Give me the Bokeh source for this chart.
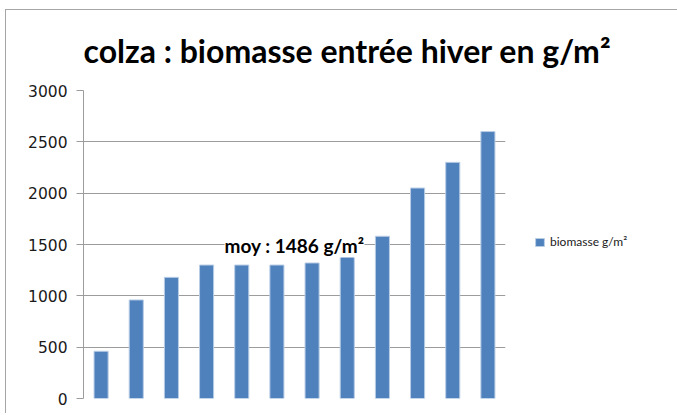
from bokeh.plotting import figure
from bokeh.models import Range1d, Label, Legend, LegendItem, FixedTicker, Title
from bokeh.embed import file_html
from bokeh.resources import INLINE

# ---- data ----
positions = list(range(1, 13))
biomasse = [460, 960, 1180, 1300, 1300, 1300, 1320, 1470, 1580, 2050, 2300, 2600]
moyenne = 1486
y_ticks = [0, 500, 1000, 1500, 2000, 2500, 3000]
title_text = "colza : biomasse entrée hiver en g/m²"
moy_text = "moy : 1486 g/m²"
legend_label = "biomasse g/m²"

BLUE = "#4f81bd"
GRID = "#9c9c9c"

p = figure(frame_width=422, frame_height=308, output_backend="svg", toolbar_location=None,
           x_range=Range1d(0.5, 12.5), y_range=Range1d(0, 3000),
           x_axis_type=None,
           min_border_left=77, min_border_right=167,
           min_border_top=80, min_border_bottom=15)
p.outline_line_color = None
p.styles = {"margin-left": "5px", "margin-top": "9px",
            "border-left": "1px solid #a6a6a6", "border-top": "1px solid #a6a6a6"}

p.xgrid.visible = False
p.ygrid.grid_line_color = GRID
p.ygrid.grid_line_width = 1
p.yaxis.ticker = FixedTicker(ticks=y_ticks)
p.yaxis.axis_line_color = GRID
p.yaxis.major_tick_line_color = GRID
p.yaxis.major_tick_out = 7
p.yaxis.major_tick_in = 0
p.yaxis.minor_tick_line_color = None
p.yaxis.major_label_text_font = "DejaVu Sans"
p.yaxis.major_label_text_font_size = "15.5px"
p.yaxis.major_label_text_color = "#1a1a1a"
p.yaxis.major_label_standoff = 9

r = p.vbar(x=positions, top=biomasse, width=0.4, fill_color=BLUE,
           line_color="#b9cde5", line_width=1)

legend = Legend(items=[LegendItem(label=legend_label, renderers=[r])],
                location=(29, 149))
legend.border_line_color = None
legend.background_fill_alpha = 0
legend.padding = 0
legend.margin = 0
legend.glyph_width = 11
legend.glyph_height = 10
legend.label_standoff = 5
legend.label_text_font = "Lato"
legend.label_text_font_size = "12px"
legend.label_text_color = "#1a1a1a"
p.add_layout(legend, "right")

title = Title(text=title_text, align="left", offset=0, standoff=37,
              vertical_align="top",
              text_font="Lato", text_font_style="bold",
              text_font_size="32px", text_color="#000000")
p.add_layout(title, "above")

moy = Label(x=6.5, y=moyenne, text=moy_text, text_align="center",
            text_baseline="middle", text_font="Lato", text_font_style="bold",
            text_font_size="19px", text_color="#000000",
            background_fill_color="white", padding=0)
p.add_layout(moy)

open("out.html", "w").write(file_html(p, INLINE))
